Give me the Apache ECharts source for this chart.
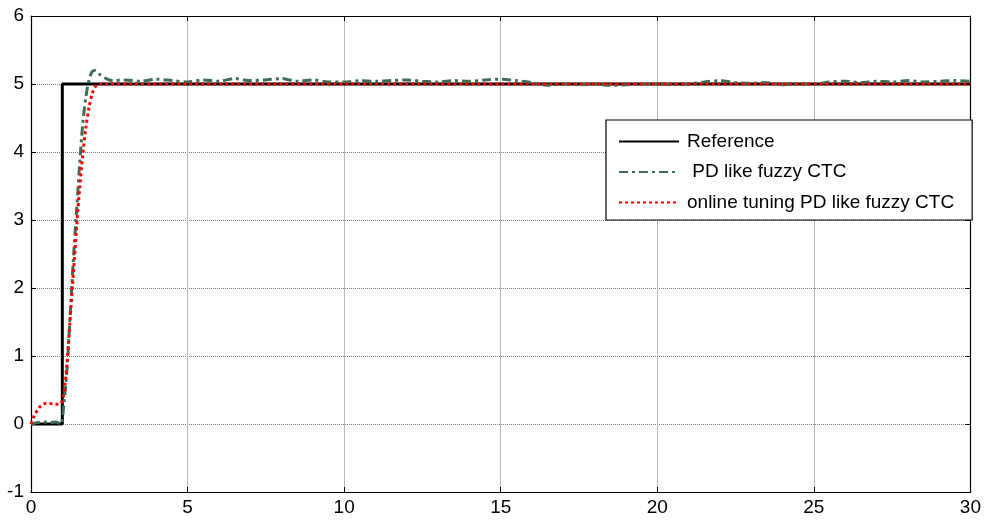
<!DOCTYPE html>
<html>
<head>
<meta charset="utf-8">
<script src="https://cdn.jsdelivr.net/npm/echarts@6/dist/echarts.min.js"></script>
<style>
  html, body { margin: 0; padding: 0; background: #fff; }
  #chart { width: 984px; height: 522px; }
</style>
</head>
<body>
<div id="chart"></div>
<script>
// legend names
var seriesNames = ['Reference', ' PD like fuzzy CTC', 'online tuning PD like fuzzy CTC'];

// reference step input [t, y]
var refData = [[0, 0], [1, 0], [1, 5], [30, 5]];

// PD like fuzzy CTC response [t, y]
var pdData = [
    [0, 0], [0.2, 0.02], [0.4, 0.03], [0.6, 0.02], [0.8, 0.03], [0.95, 0.0],
    [1.05, 0.3], [1.15, 0.8], [1.25, 1.6], [1.35, 2.4], [1.45, 3.1], [1.55, 3.8],
    [1.65, 4.4], [1.75, 4.8], [1.85, 5.05], [1.95, 5.18], [2.05, 5.2], [2.2, 5.14],
    [2.4, 5.08], [2.6, 5.05], [3.0, 5.06], [3.5, 5.04], [4.0, 5.07], [4.5, 5.05],
    [5.0, 5.03], [5.5, 5.06], [6.0, 5.04], [6.5, 5.08], [7.0, 5.05], [7.5, 5.06],
    [8.0, 5.08], [8.5, 5.04], [9.0, 5.06], [9.5, 5.03], [10, 5.03], [10.5, 5.05],
    [11, 5.04], [11.5, 5.05], [12, 5.06], [12.5, 5.04], [13, 5.03], [13.5, 5.05],
    [14, 5.04], [14.5, 5.06], [15, 5.07], [15.5, 5.05], [16, 5.02], [16.5, 4.98],
    [17, 5.0], [17.5, 4.99], [18, 5.0], [18.5, 4.98], [19, 4.99], [19.5, 5.0],
    [20, 5.0], [20.5, 4.99], [21, 5.0], [21.5, 5.03], [22, 5.05], [22.5, 5.02],
    [23, 5.01], [23.5, 5.02], [24, 4.99], [24.5, 5.0], [25, 5.0], [25.5, 5.03],
    [26, 5.04], [26.5, 5.02], [27, 5.04], [27.5, 5.03], [28, 5.05], [28.5, 5.03],
    [29, 5.04], [29.5, 5.05], [30, 5.04]
];

// online tuning PD like fuzzy CTC response [t, y]
var onlineData = [
    [0, 0], [0.1, 0.12], [0.2, 0.2], [0.3, 0.26], [0.45, 0.3], [0.6, 0.3],
    [0.8, 0.29], [0.95, 0.3], [1.05, 0.45], [1.15, 0.9], [1.25, 1.55], [1.35, 2.2],
    [1.45, 2.85], [1.55, 3.45], [1.65, 3.95], [1.75, 4.35], [1.85, 4.65], [1.95, 4.85],
    [2.05, 4.96], [2.2, 5.0], [30, 5.0]
];

var chart = echarts.init(document.getElementById('chart'));
var font = 'Liberation Sans, Arial, sans-serif';

chart.setOption({
    animation: false,
    backgroundColor: '#fff',
    grid: { left: 31, right: 11, top: 16, bottom: 30, containLabel: false },
    legend: {
        orient: 'vertical',
        left: 606,
        top: 120,
        padding: [12, 18, 8, 12],
        itemWidth: 60,
        itemHeight: 14,
        itemGap: 11.5,
        borderColor: '#000',
        borderWidth: 1.2,
        backgroundColor: '#fff',
        itemStyle: { opacity: 0 },
        textStyle: { fontFamily: font, fontSize: 19, color: '#000', padding: [0, 0, 0, 3] },
        data: seriesNames
    },
    xAxis: [{
        type: 'value', min: 0, max: 30, interval: 5,
        axisLine: { onZero: false, lineStyle: { color: '#000', width: 1.2 } },
        axisTick: { inside: true, length: 5, lineStyle: { color: '#000' } },
        axisLabel: { fontFamily: font, fontSize: 19, color: '#000', margin: 6 },
        splitLine: { lineStyle: { color: '#bbb', type: 'solid', width: 1 } }
    }, {
        type: 'value', min: 0, max: 30, interval: 5, position: 'top',
        axisLine: { onZero: false, lineStyle: { color: '#000', width: 1.2 } },
        axisTick: { inside: true, length: 5, lineStyle: { color: '#000' } },
        axisLabel: { show: false },
        splitLine: { show: false }
    }],
    yAxis: [{
        type: 'value', min: -1, max: 6, interval: 1,
        axisLine: { show: true, onZero: false, lineStyle: { color: '#000', width: 1.2 } },
        axisTick: { show: true, inside: true, length: 5, lineStyle: { color: '#000' } },
        axisLabel: { fontFamily: font, fontSize: 19, color: '#000', margin: 7 },
        splitLine: { lineStyle: { color: '#777', type: [1, 1], width: 1 } }
    }, {
        type: 'value', min: -1, max: 6, interval: 1, position: 'right',
        axisLine: { show: true, onZero: false, lineStyle: { color: '#000', width: 1.2 } },
        axisTick: { show: true, inside: true, length: 5, lineStyle: { color: '#000' } },
        axisLabel: { show: false },
        splitLine: { show: false }
    }],
    series: [{
        name: seriesNames[0], type: 'line', data: refData,
        symbol: 'none', z: 3,
        lineStyle: { color: '#000', width: 3 },
        itemStyle: { color: '#000' }
    }, {
        name: seriesNames[1], type: 'line', data: pdData,
        symbol: 'none', smooth: 0.3, z: 4,
        lineStyle: { color: '#3d6e55', width: 3, type: [9, 4, 3, 4] },
        itemStyle: { color: '#3d6e55' }
    }, {
        name: seriesNames[2], type: 'line', data: onlineData,
        symbol: 'none', smooth: 0.3, z: 5,
        lineStyle: { color: '#ff0000', width: 3, type: [3, 3] },
        itemStyle: { color: '#ff0000' }
    }]
});
</script>
</body>
</html>
